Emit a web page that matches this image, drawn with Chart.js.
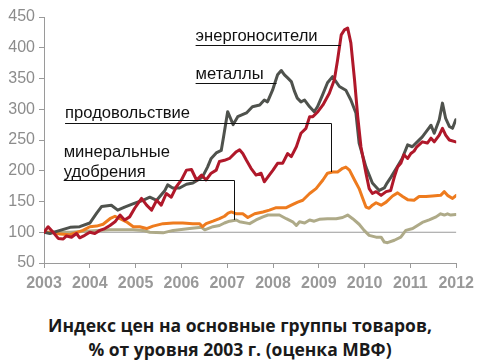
<!DOCTYPE html>
<html>
<head>
<meta charset="utf-8">
<script src="https://cdn.jsdelivr.net/npm/chart.js"></script>
<style>
  html, body { margin: 0; padding: 0; background: #fff; }
  #wrap { position: relative; width: 480px; height: 362px; }
  #title {
    position: absolute; left: 0; top: 313px; width: 480px;
    text-align: center; font-family: "Open Sans", sans-serif; font-weight: bold;
    font-size: 17.5px; line-height: 24px; color: #1a1a1a;
  }
</style>
</head>
<body>
<div id="wrap">
  <canvas id="chart" width="480" height="300"></canvas>
  <div id="title">Индекс цен на основные группы товаров,<br>% от уровня 2003 г. (оценка МВФ)</div>
</div>
<script>
// tick labels
var yearTicks = [2003, 2004, 2005, 2006, 2007, 2008, 2009, 2010, 2011, 2012];
var valueTicks = [50, 100, 150, 200, 250, 300, 350, 400, 450];

// энергоносители
var energyYears = [2003.00, 2003.09, 2003.20, 2003.31, 2003.42, 2003.49, 2003.60, 2003.71, 2003.78, 2003.89,
  2004.00, 2004.11, 2004.22, 2004.33, 2004.44, 2004.55, 2004.66, 2004.76, 2004.87, 2004.98,
  2005.13, 2005.24, 2005.35, 2005.46, 2005.56, 2005.67, 2005.78, 2005.89, 2006.00, 2006.11,
  2006.22, 2006.33, 2006.44, 2006.54, 2006.65, 2006.76, 2006.83, 2006.94, 2007.05, 2007.20,
  2007.27, 2007.34, 2007.42, 2007.52, 2007.63, 2007.74, 2007.81, 2007.89, 2008.00, 2008.10,
  2008.21, 2008.32, 2008.40, 2008.51, 2008.61, 2008.72, 2008.80, 2008.87, 2008.98, 2009.09,
  2009.23, 2009.34, 2009.41, 2009.49, 2009.56, 2009.63, 2009.70, 2009.78, 2009.85, 2009.92,
  2010.03, 2010.10, 2010.17, 2010.25, 2010.36, 2010.47, 2010.57, 2010.65, 2010.72, 2010.79,
  2010.86, 2010.94, 2011.01, 2011.08, 2011.14, 2011.26, 2011.37, 2011.45, 2011.52, 2011.63,
  2011.70, 2011.77, 2011.85, 2011.99];
var energyIndex = [100, 109, 100, 90, 89, 94, 92, 98, 91, 95,
  100, 98, 103, 106, 111, 117, 128, 120, 125, 139,
  155, 144, 136, 152, 144, 163, 157, 174, 185, 201,
  202, 185, 193, 185, 196, 201, 215, 217, 220, 231,
  234, 228, 217, 204, 193, 196, 182, 190, 201, 212,
  212, 228, 223, 239, 261, 269, 288, 288, 296, 307,
  326, 348, 380, 421, 429, 432, 408, 348, 288, 239,
  196, 171, 163, 166, 160, 166, 168, 190, 206, 212,
  226, 220, 228, 232, 239, 247, 245, 253, 247, 258,
  269, 258, 250, 247];

// металлы
var metalsYears = [2003.00, 2003.13, 2003.35, 2003.57, 2003.78, 2004.00, 2004.15, 2004.26, 2004.47, 2004.61,
  2004.76, 2004.94, 2005.16, 2005.31, 2005.46, 2005.64, 2005.70, 2005.81, 2005.96, 2006.11,
  2006.25, 2006.36, 2006.46, 2006.57, 2006.65, 2006.76, 2006.87, 2006.92, 2007.01, 2007.13,
  2007.23, 2007.42, 2007.55, 2007.71, 2007.81, 2007.88, 2007.99, 2008.10, 2008.18, 2008.25,
  2008.32, 2008.40, 2008.47, 2008.53, 2008.61, 2008.69, 2008.80, 2008.90, 2008.97, 2009.08,
  2009.19, 2009.30, 2009.45, 2009.59, 2009.70, 2009.81, 2009.88, 2010.03, 2010.17, 2010.32,
  2010.43, 2010.49, 2010.58, 2010.71, 2010.82, 2010.94, 2011.04, 2011.15, 2011.26, 2011.37,
  2011.45, 2011.52, 2011.63, 2011.70, 2011.77, 2011.85, 2011.92, 2011.99];
var metalsIndex = [100, 98, 103, 108, 109, 115, 131, 142, 144, 136,
  141, 146, 152, 157, 152, 168, 177, 172, 172, 178,
  180, 185, 190, 206, 220, 229, 233, 255, 296, 275,
  288, 294, 304, 307, 315, 312, 331, 356, 363, 356,
  351, 345, 329, 318, 312, 315, 304, 296, 304, 323,
  343, 353, 337, 331, 315, 294, 245, 206, 180, 168,
  172, 180, 190, 206, 220, 242, 239, 247, 255, 266,
  274, 261, 283, 310, 285, 272, 269, 283];

// продовольствие
var foodYears = [2003.00, 2003.20, 2003.35, 2003.57, 2003.85, 2004.00, 2004.15, 2004.29, 2004.44, 2004.55,
  2004.66, 2004.80, 2004.95, 2005.09, 2005.24, 2005.38, 2005.60, 2005.82, 2006.03, 2006.25,
  2006.40, 2006.46, 2006.54, 2006.69, 2006.83, 2006.94, 2007.02, 2007.09, 2007.20, 2007.34,
  2007.45, 2007.60, 2007.78, 2007.92, 2008.07, 2008.29, 2008.40, 2008.54, 2008.65, 2008.80,
  2008.94, 2009.09, 2009.19, 2009.30, 2009.41, 2009.52, 2009.59, 2009.67, 2009.78, 2009.88,
  2009.96, 2010.03, 2010.10, 2010.17, 2010.25, 2010.36, 2010.47, 2010.61, 2010.72, 2010.83,
  2010.94, 2011.08, 2011.19, 2011.34, 2011.48, 2011.66, 2011.74, 2011.81, 2011.92, 2012.00];
var foodIndex = [100, 100, 97, 96, 103, 109, 110, 113, 122, 126,
  122, 117, 109, 109, 106, 110, 114, 115, 115, 114,
  114, 109, 114, 118, 122, 126, 131, 133, 130, 130,
  124, 130, 133, 136, 140, 140, 144, 149, 152, 163,
  171, 185, 196, 198, 198, 204, 206, 201, 185, 171,
  155, 141, 139, 144, 148, 144, 149, 159, 164, 158,
  153, 152, 158, 158, 159, 160, 166, 160, 155, 160];

// минеральные удобрения
var fertYears = [2003.00, 2003.57, 2004.00, 2004.44, 2004.94, 2005.16, 2005.31, 2005.60, 2005.82, 2006.18,
  2006.44, 2006.51, 2006.69, 2006.83, 2006.94, 2007.05, 2007.20, 2007.27, 2007.49, 2007.63,
  2007.78, 2007.89, 2008.14, 2008.29, 2008.43, 2008.51, 2008.58, 2008.69, 2008.80, 2008.90,
  2009.01, 2009.19, 2009.38, 2009.52, 2009.63, 2009.74, 2009.88, 2009.99, 2010.10, 2010.25,
  2010.36, 2010.43, 2010.50, 2010.65, 2010.79, 2010.90, 2011.05, 2011.26, 2011.41, 2011.56,
  2011.66, 2011.74, 2011.81, 2011.88, 2011.99];
var fertIndex = [100, 100, 102, 104, 104, 103, 100, 99, 103, 106,
  108, 104, 109, 111, 115, 118, 120, 117, 114, 120,
  125, 128, 128, 122, 117, 111, 117, 115, 120, 118,
  121, 122, 122, 124, 128, 122, 113, 103, 95, 92,
  92, 84, 83, 87, 92, 103, 106, 116, 120, 125,
  130, 128, 130, 128, 129];

// уровень 2003 г.
var baseYears = [2003, 2012];
var baseIndex = [100, 100];

function points(xs, ys) {
  return xs.map(function (x, i) { return { x: x, y: ys[i] }; });
}

// callouts: text position, underline level, end point (data units)
var callouts = [
  { lines: ['энергоносители'], x: 2006.31, y: [411], lineY: 405, endX: 2009.47 },
  { lines: ['металлы'], x: 2006.31, y: [349], lineY: 343, endX: 2008.07 },
  { lines: ['продовольствие'], x: 2003.46, y: [286], lineY: 278, endX: 2009.27, endY: 198 },
  { lines: ['минеральные', 'удобрения'], x: 2003.43, y: [222, 190], lineY: 185, endX: 2007.14, endY: 120 }
];

var calloutPlugin = {
  id: 'callouts',
  afterDatasetsDraw: function (chart) {
    var ctx = chart.ctx, xs = chart.scales.x, ys = chart.scales.y;
    ctx.save();
    ctx.font = '16.6px "Liberation Sans", Arial, sans-serif';
    ctx.fillStyle = '#111';
    ctx.textBaseline = 'alphabetic';
    ctx.strokeStyle = '#111';
    ctx.lineWidth = 1;
    callouts.forEach(function (c) {
      var px = xs.getPixelForValue(c.x);
      c.lines.forEach(function (t, i) {
        ctx.fillText(t, px, ys.getPixelForValue(c.y[i]));
      });
      var ly = Math.round(ys.getPixelForValue(c.lineY)) + 0.5;
      var ex = Math.round(xs.getPixelForValue(c.endX)) + 0.5;
      ctx.beginPath();
      ctx.moveTo(px, ly);
      ctx.lineTo(ex, ly);
      if (c.endY !== undefined) ctx.lineTo(ex, ys.getPixelForValue(c.endY));
      ctx.stroke();
    });
    ctx.restore();
  }
};

var axisGray = '#9a9a9a';

new Chart(document.getElementById('chart'), {
  type: 'line',
  data: {
    datasets: [
      { label: 'энергоносители', data: points(energyYears, energyIndex), borderColor: '#b0182a', borderWidth: 3 },
      { label: 'металлы', data: points(metalsYears, metalsIndex), borderColor: '#4f524d', borderWidth: 3 },
      { label: 'продовольствие', data: points(foodYears, foodIndex), borderColor: '#ee7b1e', borderWidth: 3 },
      { label: 'минеральные удобрения', data: points(fertYears, fertIndex), borderColor: '#aeaa88', borderWidth: 3 },
      { label: 'база', data: points(baseYears, baseIndex), borderColor: axisGray, borderWidth: 1 }
    ]
  },
  options: {
    responsive: false,
    animation: false,
    layout: { padding: { top: 17, right: 23, left: 0, bottom: 0 } },
    elements: {
      point: { radius: 0 },
      line: { tension: 0, borderJoinStyle: 'round', borderCapStyle: 'round' }
    },
    plugins: { legend: { display: false }, tooltip: { enabled: false } },
    scales: {
      x: {
        type: 'linear', min: 2003, max: 2012,
        afterBuildTicks: function (s) { s.ticks = yearTicks.map(function (v) { return { value: v }; }); },
        afterFit: function (s) { s.height = 37; },
        border: { color: axisGray, width: 1 },
        grid: { drawOnChartArea: false, drawTicks: true, tickLength: 5, color: axisGray },
        ticks: {
          padding: 6, color: '#999', maxRotation: 0, autoSkip: false,
          font: { family: '"Liberation Sans", Arial, sans-serif', size: 16, weight: 'bold' },
          callback: function (v) { return String(v); }
        }
      },
      y: {
        min: 50, max: 450,
        afterBuildTicks: function (s) { s.ticks = valueTicks.map(function (v) { return { value: v }; }); },
        afterFit: function (s) { s.width = 44; },
        border: { color: axisGray, width: 1 },
        grid: { drawOnChartArea: false, drawTicks: true, tickLength: 5, color: axisGray },
        ticks: {
          padding: 4, color: '#8c8c8c',
          font: { family: '"Liberation Sans", Arial, sans-serif', size: 16 }
        }
      }
    }
  },
  plugins: [calloutPlugin]
});
</script>
</body>
</html>
